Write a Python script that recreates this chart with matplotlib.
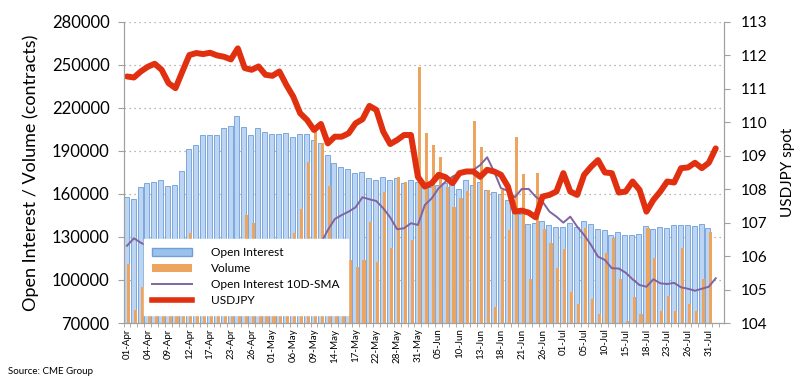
import matplotlib.pyplot as plt
import numpy as np
from matplotlib.patches import Patch
from matplotlib.lines import Line2D

plt.rcParams['font.family'] = ['Lato', 'DejaVu Sans']

# tick labels, one every 3 trading days (01-Apr .. 31-Jul)
tick_labels = ['01-Apr', '04-Apr', '09-Apr', '12-Apr', '17-Apr', '23-Apr', '26-Apr',
               '01-May', '06-May', '09-May', '14-May', '17-May', '22-May', '28-May',
               '31-May', '05-Jun', '10-Jun', '13-Jun', '18-Jun', '21-Jun', '26-Jun',
               '01-Jul', '05-Jul', '10-Jul', '15-Jul', '18-Jul', '23-Jul', '26-Jul', '31-Jul']

open_interest = [158000, 156700, 164700, 167900, 168600, 169800, 165800, 166300, 176300, 191400,
                 194200, 201200, 201200, 201200, 205800, 207400, 214400, 207000, 201200, 205800,
                 203000, 201600, 201600, 202300, 199600, 201600, 201600, 197700, 195400, 187200,
                 181400, 179000, 177200, 174400, 175000, 171000, 169800, 171700, 169800, 171000,
                 167900, 169800, 168600, 168000, 165000, 166000, 167900, 168600, 163300, 169800,
                 166300, 168600, 162800, 161600, 160000, 156000, 150000, 146000, 139100, 140000,
                 141400, 138400, 137200, 136800, 140000, 137200, 141400, 139100, 135800, 134900,
                 131200, 133300, 131200, 131200, 131900, 137700, 135400, 136800, 136300, 138600,
                 138100, 138100, 137700, 139100, 136300]

volume = [110900, 79000, 95000, 88000, 102000, 91000, 84000, 98000, 112000, 132800,
          105000, 96000, 118000, 101000, 92000, 108000, 115000, 145300, 139800, 110000,
          97000, 120000, 104000, 93000, 132800, 149500, 182500, 204700, 195600, 165800,
          120000, 128600, 114000, 109300, 114000, 140700, 112800, 161600, 122100, 172100,
          168600, 127900, 248800, 202800, 194200, 186000, 165100, 151100, 157000, 162000,
          211100, 192600, 162800, 81400, 163000, 134900, 200000, 173600, 100500, 174400,
          135400, 126000, 108600, 121400, 91800, 83300, 136100, 86700, 76300, 118600,
          129100, 100500, 71500, 87900, 76300, 136100, 115100, 78600, 88800, 78600,
          122100, 83300, 78600, 100500, 133300]

oi_sma = [123900, 129100, 126000, 123500, 121000, 118500, 116000, 114000, 112500, 111000,
          110000, 109500, 109000, 108500, 108000, 108500, 109000, 110000, 111000, 112500,
          114000, 115500, 117000, 118500, 120000, 121500, 123000, 124500, 125800, 134900,
          142500, 145300, 147700, 150700, 157700, 156300, 155100, 150000, 143700, 135400,
          136100, 139600, 138400, 152300, 157000, 164000, 168600, 172100, 174400, 175600,
          176700, 180200, 185600, 175600, 164000, 162300, 157700, 163500, 163500, 158100,
          154600, 147700, 144200, 140000, 144200, 137200, 131400, 124400, 116300, 114000,
          108200, 108000, 105100, 100500, 96500, 95300, 100500, 97700, 97200, 98000,
          94900, 93900, 92500, 93900, 95300, 101200]

usdjpy = [111.37, 111.34, 111.52, 111.66, 111.75, 111.57, 111.17, 111.02, 111.52, 112.01,
          112.07, 112.04, 112.08, 112.00, 111.96, 111.88, 112.21, 111.62, 111.57, 111.67,
          111.42, 111.39, 111.52, 111.12, 110.77, 110.27, 110.07, 109.77, 109.95, 109.37,
          109.57, 109.57, 109.67, 109.97, 110.09, 110.49, 110.37, 109.72, 109.35, 109.47,
          109.62, 109.62, 108.37, 108.08, 108.18, 108.43, 108.36, 108.18, 108.48, 108.53,
          108.53, 108.37, 108.58, 108.53, 108.43, 108.08, 107.33, 107.36, 107.30, 107.16,
          107.78, 107.83, 107.93, 108.48, 107.93, 107.83, 108.43, 108.67, 108.87, 108.50,
          108.48, 107.90, 107.93, 108.23, 107.98, 107.33, 107.68, 107.93, 108.23, 108.20,
          108.63, 108.65, 108.79, 108.63, 108.79, 109.22]

bar_x = np.arange(len(open_interest))
line_x = np.arange(len(usdjpy))

fig = plt.figure(figsize=(7.98, 3.92), dpi=100)
ax = fig.add_axes([0.1548, 0.176, 0.7525, 0.768])
ax2 = ax.twinx()

ax.bar(bar_x - 0.12, open_interest, 0.72, color='#bcd5f2', edgecolor='#7aa7dc', linewidth=0.7, zorder=2)
ax.bar(bar_x + 0.22, volume, 0.45, color='#eda45f', linewidth=0, zorder=3)
ax.plot(line_x, oi_sma, color='#8064a2', lw=1.4, zorder=4)
ax2.plot(line_x, usdjpy, color='#e1300f', lw=4.3, solid_capstyle='round', solid_joinstyle='round')

ax.set_xlim(-0.5, 86.2)
ax.set_ylim(70000, 280000)
ax.set_yticks(np.arange(70000, 280001, 30000))
ax.yaxis.grid(True, linestyle=(0, (1, 3)), color='#a0a0a0', lw=0.9)
ax.set_axisbelow(True)
ax2.set_ylim(104, 113)
ax2.set_yticks(np.arange(104, 114, 1))

ax.set_xticks(np.arange(0, 3 * len(tick_labels), 3))
ax.set_xticklabels(tick_labels, rotation=90, fontsize=7)
ax.set_xticks(np.arange(-0.5, 86.5, 1), minor=True)
ax.tick_params(axis='x', which='major', length=0, pad=4)
ax.tick_params(axis='x', which='minor', length=3, color='#a0a0a0')
ax.tick_params(axis='y', labelsize=12, length=4, pad=6, color='#a0a0a0')
ax2.tick_params(axis='y', labelsize=11, length=4, pad=8, color='#a0a0a0')

for a in (ax, ax2):
    a.spines['top'].set_visible(False)
    for s in ('left', 'right', 'bottom'):
        a.spines[s].set_color('#a0a0a0')

ax.set_ylabel('Open Interest / Volume (contracts)', fontsize=13, labelpad=9)
ax2.set_ylabel('USDJPY spot', fontsize=11, labelpad=10)

handles = [Patch(facecolor='#9cc2ec', edgecolor='#6f9fd9'),
           Patch(facecolor='#eda45f'),
           Line2D([], [], color='#8064a2', lw=1.4),
           Line2D([], [], color='#e1300f', lw=4)]
labels = ['Open Interest', 'Volume', 'Open Interest 10D-SMA', 'USDJPY']
leg = ax2.legend(handles, labels, loc='lower left', bbox_to_anchor=(0.024, 0.008),
                 fontsize=8.6, frameon=True, fancybox=False, handlelength=3.3,
                 handleheight=0.6, labelspacing=0.42, borderpad=0.7, handletextpad=1.6)
leg.get_frame().set_facecolor('white')
leg.get_frame().set_edgecolor('white')
leg.get_frame().set_alpha(1)

fig.text(0.01, 0.045, 'Source: CME Group', fontsize=7)

fig.savefig('out.png', dpi=100)
